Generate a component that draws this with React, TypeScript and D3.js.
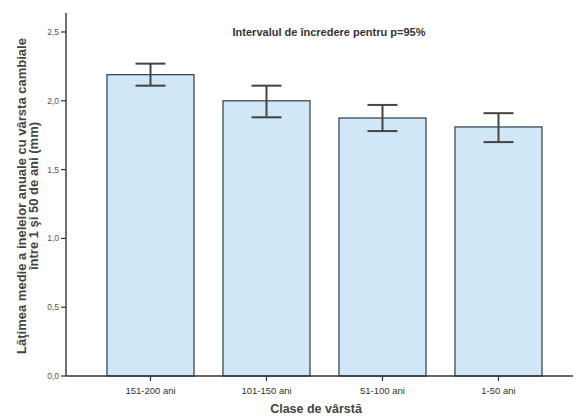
import React from "react";
import * as d3 from "d3";

const categories = ["151-200 ani", "101-150 ani", "51-100 ani", "1-50 ani"];
const means = [2.19, 2.0, 1.875, 1.81];
const ciLow = [2.11, 1.88, 1.78, 1.70];
const ciHigh = [2.27, 2.11, 1.97, 1.91];
const yTicks = [0, 0.5, 1.0, 1.5, 2.0, 2.5];

export default function App() {
  const W = 576, H = 418;
  const y = d3.scaleLinear().domain([0, 2.5]).range([376, 32]);
  const x = d3.scaleBand<string>().domain(categories).range([92.5, 556.5]).paddingInner(0.25).paddingOuter(0.125);
  const fmt = (v: number) => v.toFixed(1).replace(".", ",");
  const font = "'Liberation Sans', Arial, sans-serif";
  return (
    <svg width={W} height={H} style={{ position: "absolute", left: 0, top: 0, background: "#fff" }}>
      {categories.map((c, i) => {
        const bx = x(c)!;
        const bw = x.bandwidth();
        const cx = bx + bw / 2;
        return (
          <g key={c}>
            <rect x={bx} y={y(means[i])} width={bw} height={y(0) - y(means[i])} fill="#cfe7f7" stroke="#3a4a5a" strokeWidth={1.3} />
            <line x1={cx} x2={cx} y1={y(ciHigh[i])} y2={y(ciLow[i])} stroke="#444" strokeWidth={2} />
            <line x1={cx - 15} x2={cx + 15} y1={y(ciHigh[i])} y2={y(ciHigh[i])} stroke="#444" strokeWidth={2} />
            <line x1={cx - 15} x2={cx + 15} y1={y(ciLow[i])} y2={y(ciLow[i])} stroke="#444" strokeWidth={2} />
            <line x1={cx} x2={cx} y1={y(0)} y2={y(0) + 5} stroke="#333" strokeWidth={1.2} />
            <text x={cx} y={394} textAnchor="middle" fontFamily={font} fontSize={9.5} fill="#333">{c}</text>
          </g>
        );
      })}
      <line x1={66} x2={66} y1={13} y2={y(0)} stroke="#333" strokeWidth={1.4} />
      <line x1={66} x2={573} y1={y(0)} y2={y(0)} stroke="#333" strokeWidth={1.4} />
      {yTicks.map((t) => (
        <g key={t}>
          <line x1={61} x2={66} y1={y(t)} y2={y(t)} stroke="#333" strokeWidth={1.2} />
          <text x={59} y={y(t) + 3} textAnchor="end" fontFamily={font} fontSize={8.5} fill="#555">{fmt(t)}</text>
        </g>
      ))}
      <text x={329} y={36} textAnchor="middle" fontFamily={font} fontSize={11} fontWeight="bold" fill="#333">Intervalul de încredere pentru p=95%</text>
      <text x={316} y={413} textAnchor="middle" fontFamily={font} fontSize={12.5} fontWeight="bold" fill="#444">Clase de vârstă</text>
      <g transform="translate(26,196) rotate(-90)">
        <text x={0} y={0} textAnchor="middle" fontFamily={font} fontSize={13} fontWeight="bold" fill="#444">Lăţimea medie a inelelor anuale cu vârsta cambiale</text>
        <text x={0} y={11.5} textAnchor="middle" fontFamily={font} fontSize={13} fontWeight="bold" fill="#444">între 1 şi 50 de ani (mm)</text>
      </g>
    </svg>
  );
}
